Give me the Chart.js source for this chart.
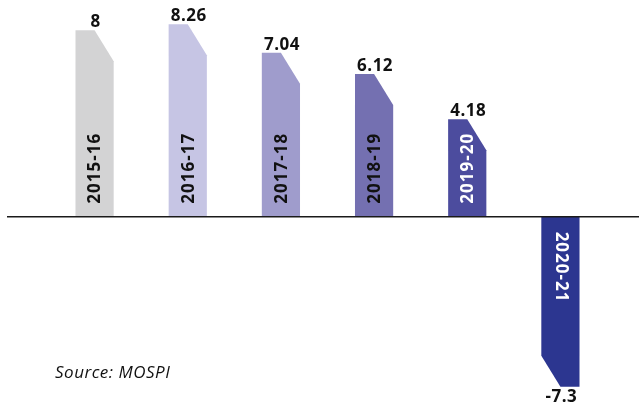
<!DOCTYPE html>
<html>
<head>
<meta charset="utf-8">
<script src="https://cdn.jsdelivr.net/npm/chart.js@4"></script>
<style>
  html, body { margin: 0; padding: 0; background: #fff; }
  #wrap { width: 639px; height: 408px; }
</style>
</head>
<body>
<div id="wrap"><canvas id="growthChart" width="639" height="408"></canvas></div>
<script>
const years = ["2015-16", "2016-17", "2017-18", "2018-19", "2019-20", "2020-21"];
const growth = [8, 8.26, 7.04, 6.12, 4.18, -7.3];
const valueLabels = ["8", "8.26", "7.04", "6.12", "4.18", "-7.3"];
const barColors = ["#d3d3d4", "#c6c5e4", "#9f9ccc", "#7470b1", "#4c4c9e", "#2c3690"];
const yearTextColors = ["#111", "#111", "#111", "#111", "#fff", "#fff"];
const sourceNote = "Source: MOSPI";

// bars drawn by hand so we get the clipped corner
const cutBars = {
  id: "cutBars",
  afterDatasetsDraw(chart) {
    const ctx = chart.ctx;
    const yScale = chart.scales.y;
    const zero = yScale.getPixelForValue(0);
    const meta = chart.getDatasetMeta(0);
    const cut = 31;

    meta.data.forEach((bar, i) => {
      const { x, y, width } = bar.getProps(["x", "y", "width"], true);
      const l = x - width / 2;
      const r = x + width / 2;
      ctx.save();
      ctx.fillStyle = barColors[i];
      ctx.beginPath();
      if (growth[i] >= 0) {
        ctx.moveTo(l, zero);
        ctx.lineTo(l, y);
        ctx.lineTo(x, y);
        ctx.lineTo(r, y + cut);
        ctx.lineTo(r, zero);
      } else {
        ctx.moveTo(l, zero);
        ctx.lineTo(r, zero);
        ctx.lineTo(r, y);
        ctx.lineTo(x, y);
        ctx.lineTo(l, y - cut);
      }
      ctx.closePath();
      ctx.fill();

      // value on top / below
      ctx.fillStyle = "#111";
      ctx.font = "bold 17px 'Open Sans'";
      ctx.letterSpacing = "0.5px";
      ctx.textAlign = "center";
      if (growth[i] >= 0) {
        ctx.textBaseline = "alphabetic";
        ctx.fillText(valueLabels[i], x + 1, y - 3);
      } else {
        ctx.textBaseline = "top";
        ctx.fillText(valueLabels[i], x + 1, y + 2);
      }

      // year written inside the bar
      ctx.fillStyle = yearTextColors[i];
      ctx.font = "bold 17px 'Open Sans'";
      ctx.letterSpacing = "1px";
      ctx.textAlign = "left";
      ctx.textBaseline = "middle";
      if (growth[i] >= 0) {
        ctx.translate(x + 1, zero - 13);
        ctx.rotate(-Math.PI / 2);
      } else {
        ctx.translate(x, zero + 15);
        ctx.rotate(Math.PI / 2);
      }
      ctx.fillText(years[i], 0, 0);
      ctx.restore();
    });

    // zero line
    ctx.save();
    ctx.strokeStyle = "#1a1a1a";
    ctx.lineWidth = 1.5;
    ctx.beginPath();
    ctx.moveTo(7, zero);
    ctx.lineTo(639, zero);
    ctx.stroke();

    ctx.fillStyle = "#111";
    ctx.font = "italic 17px 'Open Sans'";
    ctx.letterSpacing = "0.5px";
    ctx.textAlign = "left";
    ctx.textBaseline = "alphabetic";
    ctx.fillText(sourceNote, 55, 378);
    ctx.restore();
  },
};

const ctx = document.getElementById("growthChart").getContext("2d");
const growthChart = new Chart(ctx, {
  type: "bar",
  data: {
    labels: years,
    datasets: [
      {
        data: growth,
        backgroundColor: "rgba(0,0,0,0)",
        borderWidth: 0,
        barPercentage: 0.41,
        categoryPercentage: 1,
      },
    ],
  },
  options: {
    responsive: false,
    animation: false,
    layout: { padding: { top: 7, bottom: 5, left: 48, right: 32 } },
    plugins: {
      legend: { display: false },
      tooltip: { enabled: false },
    },
    scales: {
      x: { display: false },
      y: { display: false, min: -8, max: 9 },
    },
  },
  plugins: [cutBars],
});
</script>
</body>
</html>
